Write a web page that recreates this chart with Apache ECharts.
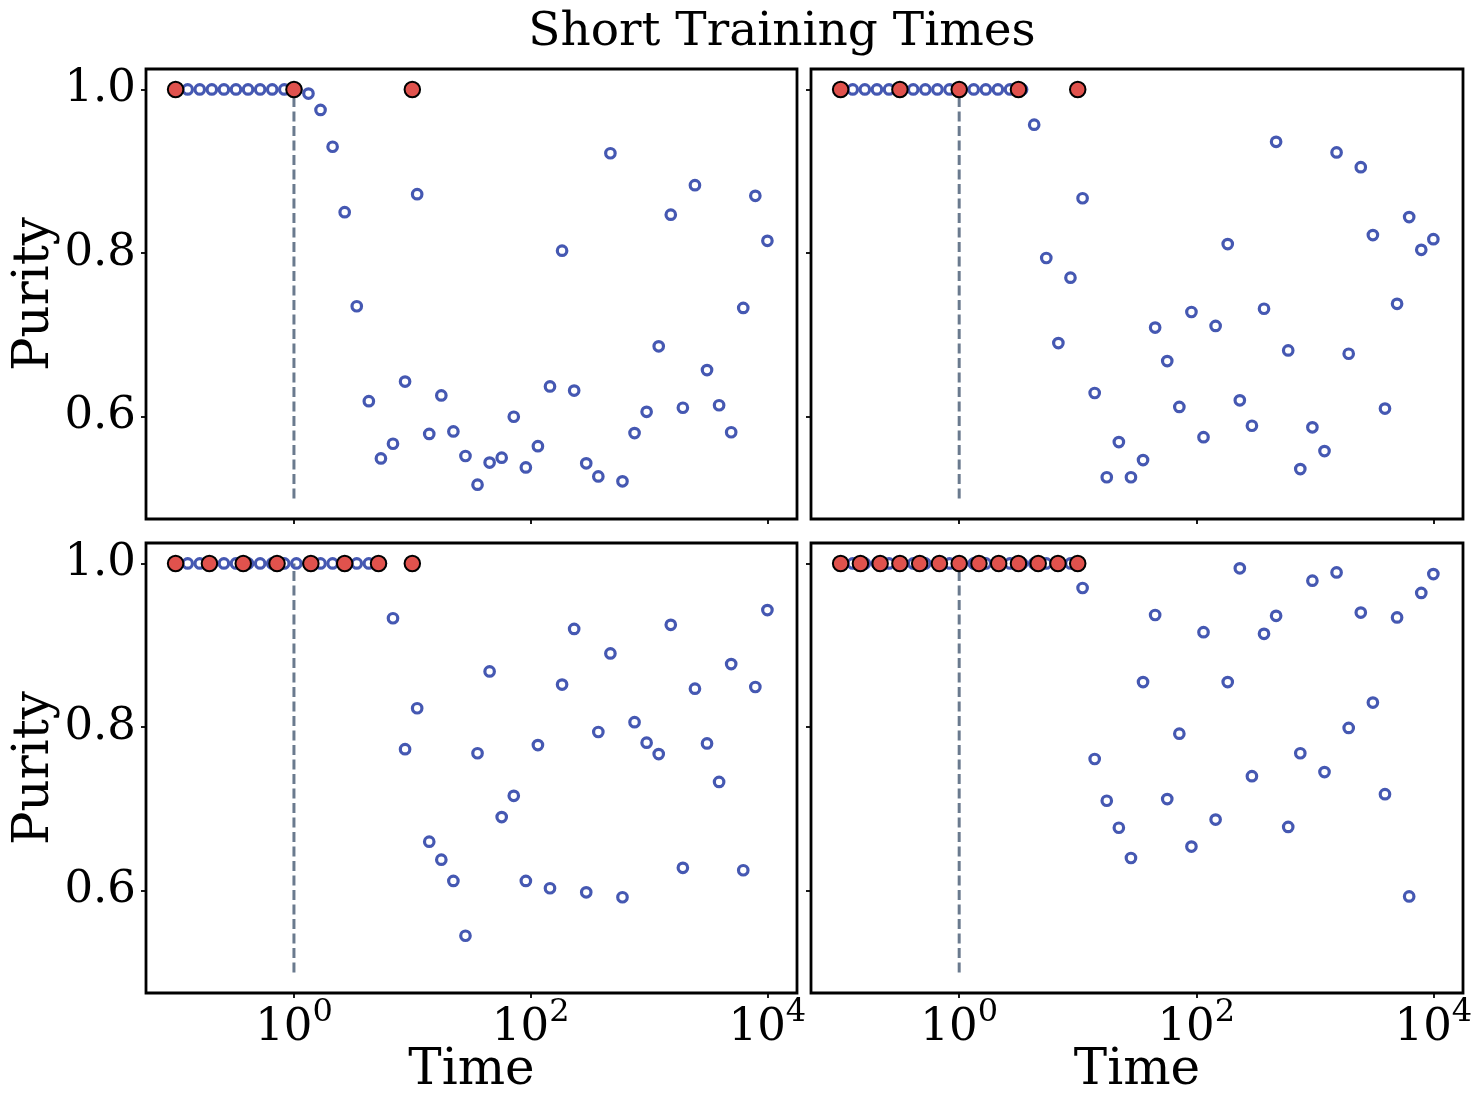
<!DOCTYPE html>
<html>
<head>
<meta charset="utf-8">
<script src="https://cdn.jsdelivr.net/npm/echarts@6/dist/echarts.min.js"></script>
<style>
html,body{margin:0;padding:0;background:#fff;}
#chart{width:1481px;height:1107px;}
</style>
</head>
<body>
<div id="chart"></div>
<script>
// Evaluation times (log-spaced)
const times = [0.1, 0.1265, 0.16, 0.2024, 0.256, 0.3237, 0.4095, 0.518, 0.6551, 0.8286,
  1.048, 1.326, 1.677, 2.121, 2.683, 3.393, 4.292, 5.429, 6.866, 8.685,
  10.99, 13.9, 17.58, 22.23, 28.12, 35.56, 44.98, 56.9, 71.97, 91.03,
  115.1, 145.6, 184.2, 233.0, 294.7, 372.8, 471.5, 596.4, 754.3, 954.1,
  1207, 1526, 1931, 2442, 3089, 3907, 4942, 6251, 7906, 10000];

const purityA = [1, 1, 1, 1, 1, 1, 1, 1, 1, 1,
  1, 0.995, 0.975, 0.930, 0.850, 0.735, 0.619, 0.549, 0.567, 0.643,
  0.872, 0.579, 0.626, 0.582, 0.552, 0.517, 0.544, 0.550, 0.600, 0.538,
  0.564, 0.637, 0.803, 0.632, 0.543, 0.527, 0.922, 0.521, 0.580, 0.606,
  0.686, 0.847, 0.611, 0.883, 0.657, 0.614, 0.581, 0.733, 0.870, 0.815];
const purityB = [1, 1, 1, 1, 1, 1, 1, 1, 1, 1,
  1, 1, 1, 1, 1, 1, 0.957, 0.794, 0.690, 0.770,
  0.867, 0.629, 0.526, 0.569, 0.526, 0.547, 0.709, 0.668, 0.612, 0.728,
  0.575, 0.711, 0.811, 0.620, 0.589, 0.732, 0.936, 0.681, 0.536, 0.587,
  0.558, 0.923, 0.677, 0.905, 0.822, 0.610, 0.738, 0.844, 0.804, 0.817];
const purityC = [1, 1, 1, 1, 1, 1, 1, 1, 1, 1,
  1, 1, 1, 1, 1, 1, 1, 1, 0.933, 0.773,
  0.823, 0.660, 0.638, 0.612, 0.545, 0.768, 0.868, 0.690, 0.716, 0.612,
  0.778, 0.603, 0.852, 0.920, 0.598, 0.794, 0.890, 0.592, 0.806, 0.781,
  0.767, 0.925, 0.628, 0.847, 0.780, 0.733, 0.877, 0.625, 0.849, 0.943];
const purityD = [1, 1, 1, 1, 1, 1, 1, 1, 1, 1,
  1, 1, 1, 1, 1, 1, 1, 1, 1, 1,
  0.970, 0.761, 0.710, 0.677, 0.640, 0.855, 0.937, 0.712, 0.792, 0.654,
  0.916, 0.687, 0.855, 0.994, 0.740, 0.914, 0.936, 0.678, 0.768, 0.979,
  0.745, 0.989, 0.799, 0.940, 0.830, 0.718, 0.934, 0.593, 0.964, 0.987];

// Training times (red markers) and their purity
const trainA = [0.1, 1, 10];
const trainPurityA = [1, 1, 1];
const trainB = [0.1, 0.3162, 1, 3.162, 10];
const trainPurityB = [1, 1, 1, 1, 1];
const trainC = [0.1, 0.1931, 0.3728, 0.7197, 1.3895, 2.6827, 5.1795, 10];
const trainPurityC = [1, 1, 1, 1, 1, 1, 1, 1];
const trainD = [0.1, 0.1468, 0.2154, 0.3162, 0.4642, 0.6813, 1, 1.468, 2.154, 3.162, 4.642, 6.813, 10];
const trainPurityD = [1, 1, 1, 1, 1, 1, 1, 1, 1, 1, 1, 1, 1];

// Reference line
const refLineX = [1, 1];
const refLineY = [0.5, 1.0];

const xTicks = [1, 100, 10000];
const yTicks = [0.6, 0.8, 1.0];
const titleText = 'Short Training Times';
const xName = 'Time';
const yName = 'Purity';

const panels = [
  {purity: purityA, train: trainA, trainP: trainPurityA},
  {purity: purityB, train: trainB, trainP: trainPurityB},
  {purity: purityC, train: trainC, trainP: trainPurityC},
  {purity: purityD, train: trainD, trainP: trainPurityD}
];

const FONT = 'DejaVu Serif';
const gridPos = [
  {left: 146, top: 69, width: 651, height: 450},
  {left: 811, top: 69, width: 652, height: 450},
  {left: 146, top: 543, width: 651, height: 450},
  {left: 811, top: 543, width: 652, height: 450}
];

const grids = [], xAxes = [], yAxes = [], series = [];
panels.forEach((p, k) => {
  const isBottom = k >= 2, isLeft = (k % 2 === 0);
  grids.push(Object.assign({show: true, borderColor: '#000', borderWidth: 2.8, backgroundColor: '#fff', containLabel: false}, gridPos[k]));
  xAxes.push({
    type: 'log', logBase: 10, gridIndex: k,
    min: 0.0562341, max: 17782.79,
    axisLine: {show: false},
    splitLine: {show: false},
    minorTick: {show: false},
    axisTick: {show: true, length: 5, lineStyle: {color: '#000', width: 1.8}, customValues: xTicks},
    axisLabel: {
      show: isBottom, customValues: xTicks, margin: 4,
      formatter: function (v) { return '{b|10}{s|' + Math.round(Math.log10(v)) + '}'; },
      rich: {
        b: {fontSize: 45, fontFamily: FONT, color: '#000', lineHeight: 54, verticalAlign: 'bottom'},
        s: {fontSize: 32, fontFamily: FONT, color: '#000', lineHeight: 34, verticalAlign: 'top'}
      }
    },
    name: isBottom ? xName : '', nameLocation: 'middle', nameGap: 53, nameMoveOverlap: false,
    nameTextStyle: {fontSize: 50, fontFamily: FONT, color: '#000'}
  });
  yAxes.push({
    type: 'value', gridIndex: k, min: 0.475, max: 1.025,
    axisLine: {show: false},
    splitLine: {show: false},
    axisTick: {show: true, length: 5, lineStyle: {color: '#000', width: 1.8}, customValues: yTicks},
    axisLabel: {
      show: isLeft, customValues: yTicks, margin: 10,
      formatter: function (v) { return v.toFixed(1); },
      fontSize: 45, fontFamily: FONT, color: '#000'
    },
    name: isLeft ? yName : '', nameLocation: 'middle', nameGap: 86, nameMoveOverlap: false,
    nameTextStyle: {fontSize: 50, fontFamily: FONT, color: '#000'}
  });
  series.push({
    type: 'line', xAxisIndex: k, yAxisIndex: k, z: 2,
    data: refLineX.map((x, i) => [x, refLineY[i]]),
    symbol: 'none', showSymbol: false, silent: true,
    lineStyle: {color: '#6a7a8e', width: 3, type: [10, 4.5]}
  });
  series.push({
    type: 'scatter', xAxisIndex: k, yAxisIndex: k, z: 3, silent: true,
    data: times.map((t, i) => [t, p.purity[i]]),
    symbol: 'circle', symbolSize: 9.5,
    itemStyle: {color: 'rgba(255,255,255,0)', borderColor: '#4558b2', borderWidth: 3.2, opacity: 1}
  });
  series.push({
    type: 'scatter', xAxisIndex: k, yAxisIndex: k, z: 4, silent: true,
    data: p.train.map((t, i) => [t, p.trainP[i]]),
    symbol: 'circle', symbolSize: 15.5,
    itemStyle: {color: '#e0524d', borderColor: '#000', borderWidth: 2, opacity: 1}
  });
});

const chart = echarts.init(document.getElementById('chart'), null, {renderer: 'canvas'});
chart.setOption({
  animation: false,
  backgroundColor: '#fff',
  title: {
    text: titleText, left: 782, top: 9, textAlign: 'center', padding: 0,
    textStyle: {fontSize: 47, fontWeight: 'normal', fontFamily: FONT, color: '#000'}
  },
  grid: grids, xAxis: xAxes, yAxis: yAxes, series: series
});
</script>
</body>
</html>
